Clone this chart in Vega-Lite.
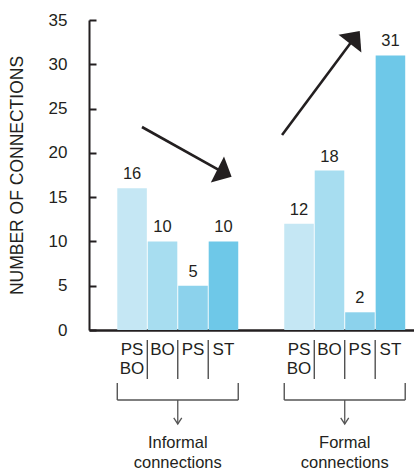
{
  "$schema": "https://vega.github.io/schema/vega-lite/v6.json",
  "width": 325,
  "height": 310,
  "autosize": {"type": "none"},
  "padding": {"left": 89, "top": 20, "right": 0, "bottom": 140},
  "background": "white",
  "config": {
    "view": {"stroke": null},
    "font": "Liberation Sans",
    "text": {"font": "Liberation Sans", "color": "#231f20"}
  },
  "datasets": {
    "bars": [
      {"group": "Informal", "sub": "PSBO", "label": "PS\nBO", "value": 16},
      {"group": "Informal", "sub": "BO", "label": "BO", "value": 10},
      {"group": "Informal", "sub": "PS", "label": "PS", "value": 5},
      {"group": "Informal", "sub": "ST", "label": "ST", "value": 10},
      {"group": "Formal", "sub": "PSBO", "label": "PS\nBO", "value": 12},
      {"group": "Formal", "sub": "BO", "label": "BO", "value": 18},
      {"group": "Formal", "sub": "PS", "label": "PS", "value": 2},
      {"group": "Formal", "sub": "ST", "label": "ST", "value": 31}
    ],
    "groups": [
      {"group": "Informal", "title": "Informal\nconnections"},
      {"group": "Formal", "title": "Formal\nconnections"}
    ],
    "arrows": [
      {"arrow": "down", "end": "tail", "ax": 0.163, "ay": 22.92},
      {"arrow": "down", "end": "head", "ax": 0.417, "ay": 17.71},
      {"arrow": "up", "end": "tail", "ax": 0.594, "ay": 22.02},
      {"arrow": "up", "end": "head", "ax": 0.818, "ay": 33.05}
    ]
  },
  "resolve": {"scale": {"x": "independent", "xOffset": "independent"}},
  "layer": [
    {
      "data": {"name": "bars"},
      "encoding": {
        "x": {
          "field": "group", "type": "nominal", "sort": ["Informal", "Formal"],
          "scale": {"type": "band", "domain": ["Informal", "Formal"], "paddingInner": 0.2755, "paddingOuter": 0.111, "align": 0.763},
          "axis": {"labels": false, "ticks": false, "title": null, "domainColor": "#231f20", "domainWidth": 2.5}
        }
      },
      "layer": [
        {
          "mark": {"type": "bar"},
          "encoding": {
            "xOffset": {"field": "sub", "type": "nominal", "sort": ["PSBO", "BO", "PS", "ST"], "scale": {"domain": ["PSBO", "BO", "PS", "ST"], "paddingInner": 0.03, "paddingOuter": 0}},
            "y": {
              "field": "value", "type": "quantitative",
              "scale": {"domain": [0, 35], "nice": false},
              "axis": {
                "title": "NUMBER OF CONNECTIONS", "values": [0, 5, 10, 15, 20, 25, 30, 35], "grid": false,
                "domainColor": "#231f20", "domainWidth": 2, "tickColor": "#231f20", "tickWidth": 2, "tickSize": -7,
                "labelFontSize": 17, "labelFont": "Liberation Sans", "labelColor": "#231f20", "labelPadding": 29,
                "titleFontSize": 17.5, "titleFont": "Liberation Sans", "titleFontWeight": "normal", "titleColor": "#231f20", "titlePadding": 22
              }
            },
            "color": {"field": "sub", "type": "nominal", "scale": {"domain": ["PSBO", "BO", "PS", "ST"], "range": ["#c5e7f4", "#a7ddf0", "#8cd2ec", "#6ec8e8"]}, "legend": null}
          }
        },
        {
          "mark": {"type": "text", "baseline": "alphabetic", "dy": -9, "fontSize": 16.5},
          "encoding": {
            "xOffset": {"field": "sub", "type": "nominal", "sort": ["PSBO", "BO", "PS", "ST"], "scale": {"domain": ["PSBO", "BO", "PS", "ST"], "paddingInner": 0.03, "paddingOuter": 0}},
            "y": {"field": "value", "type": "quantitative", "scale": {"domain": [0, 35]}},
            "text": {"field": "value", "type": "quantitative"}
          }
        },
        {
          "mark": {"type": "text", "baseline": "top", "lineBreak": "\n", "lineHeight": 19, "fontSize": 17},
          "encoding": {
            "xOffset": {"field": "sub", "type": "nominal", "sort": ["PSBO", "BO", "PS", "ST"], "scale": {"domain": ["PSBO", "BO", "PS", "ST"], "paddingInner": 0.03, "paddingOuter": 0}},
            "y": {"datum": -1.3, "type": "quantitative", "scale": {"domain": [0, 35]}},
            "text": {"field": "label"}
          }
        },
        {
          "data": {"name": "groups"},
          "mark": {"type": "rule", "color": "#555555", "strokeWidth": 1.4},
          "encoding": {
            "x": {"field": "group", "type": "nominal", "bandPosition": 0},
            "x2": {"field": "group", "bandPosition": 1},
            "y": {"datum": -7.9, "type": "quantitative", "scale": {"domain": [0, 35]}}
          }
        },
        {
          "data": {"name": "groups"},
          "mark": {"type": "rule", "color": "#555555", "strokeWidth": 1.4},
          "encoding": {
            "x": {"field": "group", "type": "nominal", "bandPosition": 0},
            "y": {"datum": -5.98, "type": "quantitative", "scale": {"domain": [0, 35]}},
            "y2": {"datum": -7.9}
          }
        },
        {
          "data": {"name": "groups"},
          "mark": {"type": "rule", "color": "#555555", "strokeWidth": 1.4},
          "encoding": {
            "x": {"field": "group", "type": "nominal", "bandPosition": 1},
            "y": {"datum": -5.98, "type": "quantitative", "scale": {"domain": [0, 35]}},
            "y2": {"datum": -7.9}
          }
        },
        {
          "data": {"name": "groups"},
          "mark": {"type": "rule", "color": "#555555", "strokeWidth": 1.3},
          "encoding": {
            "y": {"datum": -7.9, "type": "quantitative", "scale": {"domain": [0, 35]}},
            "y2": {"datum": -10.6}
          }
        },
        {
          "data": {"name": "groups"},
          "mark": {"type": "point", "shape": "M-1,-0.75L0,0.75L1,-0.75", "filled": false, "size": 64, "stroke": "#555555", "strokeWidth": 1.3, "opacity": 1},
          "encoding": {
            "y": {"datum": -10.27, "type": "quantitative", "scale": {"domain": [0, 35]}}
          }
        },
        {
          "data": {"name": "groups"},
          "mark": {"type": "text", "baseline": "top", "lineBreak": "\n", "lineHeight": 20, "fontSize": 16.5},
          "encoding": {
            "y": {"datum": -11.9, "type": "quantitative", "scale": {"domain": [0, 35]}},
            "text": {"field": "title"}
          }
        }
      ]
    },
    {
      "data": {"name": "bars"},
      "transform": [{"filter": "datum.sub !== 'PSBO'"}],
      "mark": {"type": "rule", "color": "#444444", "strokeWidth": 1.3},
      "encoding": {
        "x": {
          "field": "group", "type": "nominal", "sort": ["Informal", "Formal"],
          "scale": {"type": "band", "domain": ["Informal", "Formal"], "paddingInner": 0.2755, "paddingOuter": 0.111, "align": 0.763},
          "axis": null
        },
        "xOffset": {"field": "sub", "type": "nominal", "sort": ["BO", "PS", "ST"], "scale": {"type": "point", "domain": ["BO", "PS", "ST"], "padding": 0.9856}},
        "y": {"datum": -1.13, "type": "quantitative", "scale": {"domain": [0, 35]}},
        "y2": {"datum": -5.53}
      }
    },
    {
      "data": {"name": "arrows"},
      "layer": [
        {
          "mark": {"type": "line", "color": "#231f20", "strokeWidth": 2.6},
          "encoding": {
            "x": {"field": "ax", "type": "quantitative", "scale": {"domain": [0, 1]}, "axis": null},
            "y": {"field": "ay", "type": "quantitative", "scale": {"domain": [0, 35]}},
            "detail": {"field": "arrow"}
          }
        },
        {
          "transform": [{"filter": "datum.end === 'head' && datum.arrow === 'down'"}],
          "mark": {"type": "point", "shape": "M0,-0.55L1,0.55L-1,0.55Z", "filled": true, "size": 841, "angle": 117, "color": "#231f20", "opacity": 1},
          "encoding": {
            "x": {"field": "ax", "type": "quantitative", "scale": {"domain": [0, 1]}, "axis": null},
            "y": {"field": "ay", "type": "quantitative", "scale": {"domain": [0, 35]}}
          }
        },
        {
          "transform": [{"filter": "datum.end === 'head' && datum.arrow === 'up'"}],
          "mark": {"type": "point", "shape": "M0,-0.55L1,0.55L-1,0.55Z", "filled": true, "size": 841, "angle": 38, "color": "#231f20", "opacity": 1},
          "encoding": {
            "x": {"field": "ax", "type": "quantitative", "scale": {"domain": [0, 1]}, "axis": null},
            "y": {"field": "ay", "type": "quantitative", "scale": {"domain": [0, 35]}}
          }
        }
      ]
    }
  ]
}
